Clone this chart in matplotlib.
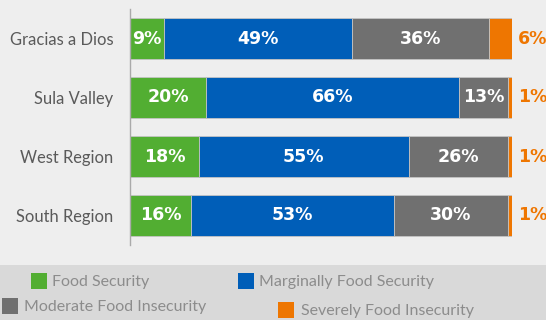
"""Food security status by region, stacked horizontal bars."""

import matplotlib

matplotlib.use("agg")
import matplotlib.pyplot as plt
from matplotlib.patches import Rectangle

regions = ["Gracias a Dios", "Sula Valley", "West Region", "South Region"]
food_security = [9, 20, 18, 16]
marginal = [49, 66, 55, 53]
moderate = [36, 13, 26, 30]
severe = [6, 1, 1, 1]

series_names = [
    "Food Security",
    "Marginally Food Security",
    "Moderate Food Insecurity",
    "Severely Food Insecurity",
]
colors = ["#52ae32", "#005eb8", "#707070", "#ee7601"]

plt.rcParams["font.family"] = ["Lato", "DejaVu Sans"]
value_font = ["DejaVu Sans"]

fig = plt.figure(figsize=(5.46, 3.2), dpi=100)
fig.patch.set_facecolor("#eeeeee")

# grey band behind the legend
fig.add_artist(Rectangle((0, 0), 1, 55 / 320, transform=fig.transFigure,
                         facecolor="#d9d9d9", edgecolor="none", zorder=0))

ax = fig.add_axes([130 / 546, 75 / 320, 382 / 546, 236 / 320])
ax.set_facecolor("none")

ypos = list(range(len(regions)))[::-1]
series = [food_security, marginal, moderate, severe]
left = [0] * len(regions)
for i, vals in enumerate(series):
    bars = ax.barh(ypos, vals, left=left, height=0.695, color=colors[i],
                   edgecolor="#c4c4c4", linewidth=0.6)
    for bar, v in zip(bars, vals):
        if i < 3:
            ax.text(bar.get_x() + bar.get_width() / 2, bar.get_y() + bar.get_height() / 2,
                    f"{v}%", ha="center", va="center", color="white",
                    fontsize=12.5, fontweight="bold", family=value_font)
        else:
            ax.text(101.6, bar.get_y() + bar.get_height() / 2, f"{v}%",
                    ha="left", va="center", color=colors[i],
                    fontsize=12.5, fontweight="bold", family=value_font,
                    clip_on=False)
    left = [a + b for a, b in zip(left, vals)]

ax.set_xlim(0, 100)
ax.set_ylim(-0.5, 3.5)
ax.set_yticks(ypos)
ax.set_yticklabels(regions, fontsize=11.9, color="#5a5a5a")
ax.tick_params(axis="y", length=0, pad=12)
ax.set_xticks([])
for side in ["top", "right", "bottom"]:
    ax.spines[side].set_visible(False)
ax.spines["left"].set_color("#aaaaaa")
ax.spines["left"].set_linewidth(1.0)

# legend laid out in two staggered rows
legend_spots = [
    (31, 273, 52),
    (238, 273, 259),
    (2, 298, 24),
    (278, 302, 301),
]
for (sx, sy, tx), name, c in zip(legend_spots, series_names, colors):
    fig.add_artist(Rectangle((sx / 546, 1 - (sy + 16) / 320), 16 / 546, 16 / 320,
                             transform=fig.transFigure, facecolor=c,
                             edgecolor="none"))
    fig.text(tx / 546, 1 - (sy + 9) / 320, name, ha="left", va="center",
             fontsize=11.5, color="#8c8c8c")

fig.savefig("out.png", dpi=100, facecolor=fig.get_facecolor())
